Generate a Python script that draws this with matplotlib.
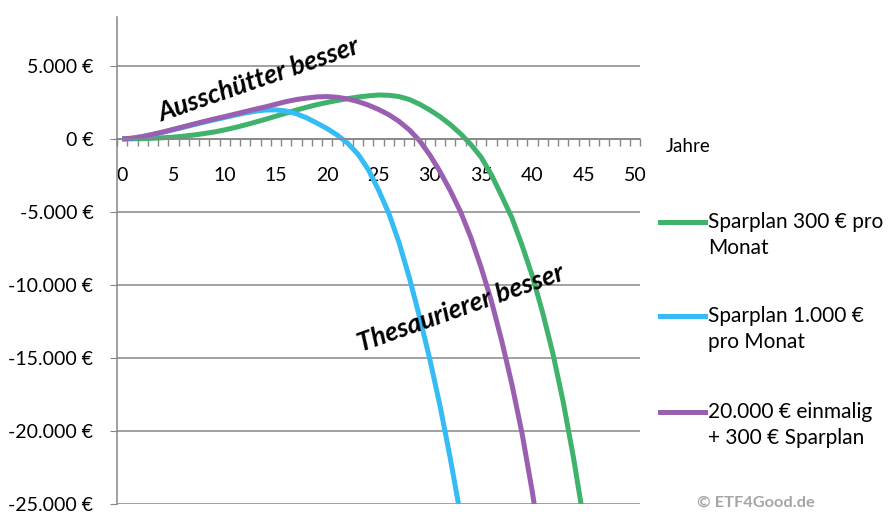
"""
Ausschütter vs. Thesaurierer: Differenz des Endvermögens je Anlagedauer.
"""

import numpy as np
import matplotlib.pyplot as plt
from matplotlib.lines import Line2D
from matplotlib.ticker import FuncFormatter, MultipleLocator

# Data (Euro)
sparplan_300 = [
    0, 5, 20, 45, 80, 120, 190, 270, 370, 480,
    620, 780, 960, 1150, 1350, 1560, 1770, 1980, 2170, 2350,
    2500, 2640, 2760, 2870, 2950, 3010, 2990, 2900, 2700, 2380,
    1980, 1520, 980, 350, -380, -1250, -2450, -3900, -5400, -7300,
    -9400, -11900, -14700, -18000, -21800, -26100,
]
sparplan_1000 = [
    0, 40, 150, 300, 460, 630, 800, 980, 1150, 1310,
    1470, 1630, 1780, 1900, 1980, 1990, 1910, 1720, 1440, 1080,
    700, 250, -300, -1050, -2100, -3500, -5100, -7100, -9500, -12200,
    -15100, -18300, -21900, -25800,
]
einmal_20000 = [
    0, 60, 170, 320, 480, 660, 840, 1020, 1200, 1370,
    1530, 1700, 1870, 2040, 2200, 2380, 2560, 2700, 2800, 2880,
    2900, 2850, 2740, 2560, 2320, 2020, 1660, 1200, 620, -120,
    -1100, -2250, -3550, -5000, -6750, -8800, -11100, -13800, -16800, -20200,
    -24200, -28800,
]

series = [
    (sparplan_300, "#3FB26C", "Sparplan 300 € pro\nMonat"),
    (sparplan_1000, "#35BCF6", "Sparplan 1.000 €\npro Monat"),
    (einmal_20000, "#9A5FB0", "20.000 € einmalig\n+ 300 € Sparplan"),
]

Y_TICKS = [5000, 0, -5000, -10000, -15000, -20000, -25000]
X_TICKS = list(range(0, 51, 5))

GRID = "#868686"
FONT = "Lato"


def euro(v, pos=None):
    return f"{v:,.0f}".replace(",", ".") + " €"


fig = plt.figure(figsize=(8.9, 5.23), dpi=100)
ax = fig.add_axes([0.1315, 0.0363, 0.5877, 0.9312])

for values, color, label in series:
    years = np.arange(len(values))
    ax.plot(years, values, color=color, linewidth=3.6, solid_capstyle="butt")

ax.set_xlim(-0.5, 50.5)
ax.set_ylim(-25000, 8350)

# y axis
ax.set_yticks(Y_TICKS)
ax.yaxis.set_major_formatter(FuncFormatter(euro))
ax.grid(True, axis="y", color=GRID, linewidth=1.1)
ax.tick_params(axis="y", length=5, color=GRID, pad=12, labelsize=14)
for lab in ax.get_yticklabels():
    lab.set_fontfamily(FONT)

# x axis sits on the zero line
for s in ["top", "right"]:
    ax.spines[s].set_visible(False)
ax.spines["left"].set_color(GRID)
ax.spines["left"].set_linewidth(1.1)
ax.spines["bottom"].set_position(("data", 0))
ax.spines["bottom"].set_color(GRID)
ax.spines["bottom"].set_linewidth(1.1)
ax.set_xticks(X_TICKS)
ax.xaxis.set_minor_locator(MultipleLocator(1, offset=0.5))
ax.tick_params(axis="x", which="major", length=0, pad=20, labelsize=14)
ax.tick_params(axis="x", which="minor", length=5, color=GRID, width=1)
for lab in ax.get_xticklabels():
    lab.set_fontfamily(FONT)

ax.text(53.0, -500, "Jahre", fontsize=13.5, family=FONT, va="center", ha="left",
        clip_on=False)

# annotations
ax.text(13.3, 4050, "Ausschütter besser", rotation=19, fontsize=19,
        family=FONT, fontweight="bold", fontstyle="italic",
        ha="center", va="center")
ax.text(33.0, -11600, "Thesaurierer besser", rotation=19.5, fontsize=19,
        family=FONT, fontweight="bold", fontstyle="italic",
        ha="center", va="center")

# legend drawn by hand so the handle sits on the first text line
legend_y = [1 - 222 / 523, 1 - 316 / 523, 1 - 412 / 523]
line_step = 26 / 523
for (values, color, label), ly in zip(series, legend_y):
    fig.add_artist(Line2D([660 / 890, 705 / 890], [ly, ly], color=color,
                          linewidth=3.6, transform=fig.transFigure))
    for k, part in enumerate(label.split("\n")):
        fig.text(708 / 890, ly - k * line_step, part, fontsize=15, family=FONT,
                 va="center", ha="left")

fig.text(756 / 890, 1 - 503 / 523, "© ETF4Good.de", fontsize=11.8, family=FONT,
         fontweight="bold", color="#A6A6A6", ha="center", va="center")

fig.savefig("out.png", dpi=100)
